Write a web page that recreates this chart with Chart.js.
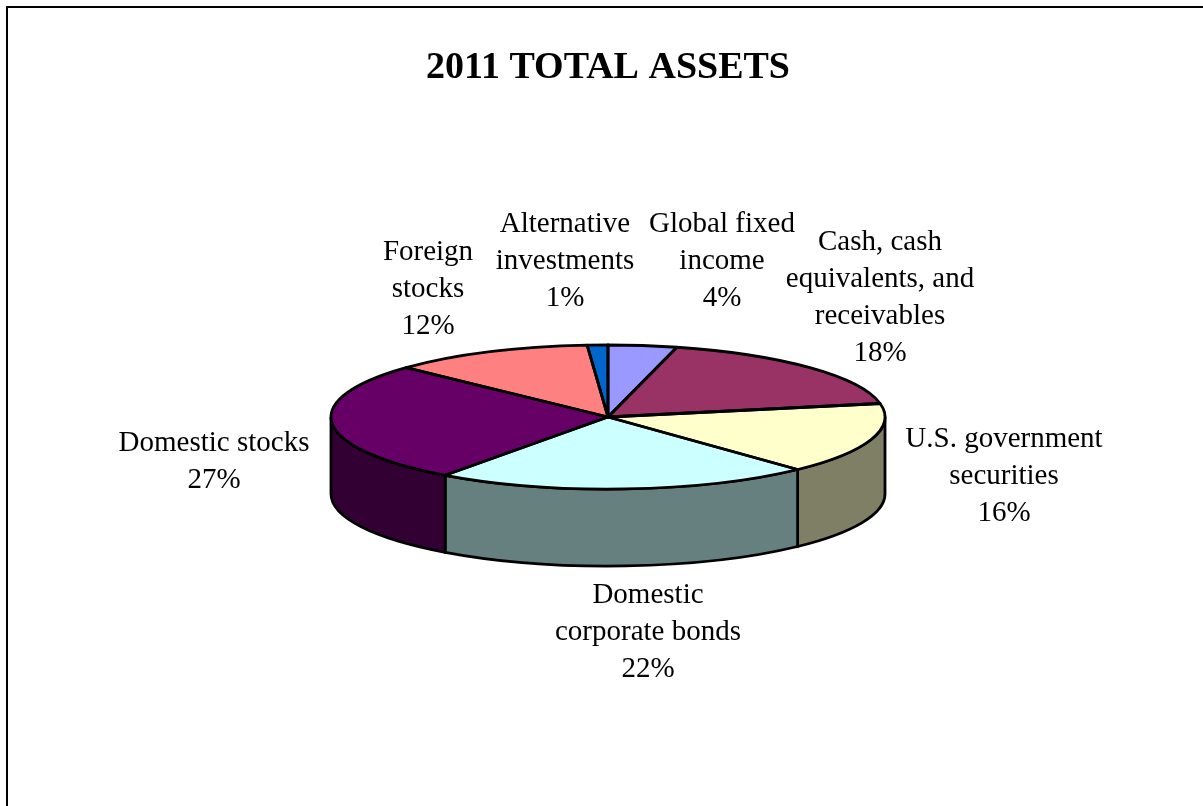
<!DOCTYPE html>
<html>
<head>
<meta charset="utf-8">
<title>2011 Total Assets</title>
<script src="https://cdn.jsdelivr.net/npm/chart.js"></script>
<style>
    html, body { margin: 0; padding: 0; background: #fff; overflow: hidden; }
    #frame { position: absolute; left: 6px; top: 6px; right: 0; bottom: 0; border-left: 2px solid #000; border-top: 2px solid #000; }
    #chart { position: absolute; left: 0; top: 0; }
</style>
</head>
<body>
<div id="frame"></div>
<canvas id="chart" width="1203" height="806"></canvas>
<script>
// clockwise from 12 o'clock
const categories = ['Global fixed income', 'Cash, cash equivalents, and receivables', 'U.S. government securities',
    'Domestic corporate bonds', 'Domestic stocks', 'Foreign stocks', 'Alternative investments'];
const shares = [4, 18, 16, 22, 27, 11.8, 1.2];
const labelLines = [
    ['Global fixed', 'income'],
    ['Cash, cash', 'equivalents, and', 'receivables'],
    ['U.S. government', 'securities'],
    ['Domestic', 'corporate bonds'],
    ['Domestic stocks'],
    ['Foreign', 'stocks'],
    ['Alternative', 'investments']
];

const sliceColors = ['#9999ff', '#993366', '#ffffcc', '#ccffff', '#660066', '#ff8080', '#0066cc'];
const labelCenters = [[722, 224], [880, 242], [1004, 439], [648, 595], [214, 443], [428, 252], [565, 224]];

const squash = 0.26;
const depth = 77;
const edgeWidth = 2.8;
const lineHeight = 37;

const halfColor = (hex) => {
    const n = parseInt(hex.slice(1), 16);
    return `rgb(${(n >> 16) >> 1}, ${((n >> 8) & 255) >> 1}, ${(n & 255) >> 1})`;
};

const tiltedPie = {
    id: 'tiltedPie',
    beforeDatasetsDraw(chart) {
        const ctx = chart.ctx;
        const arcs = chart.getDatasetMeta(0).data;
        const { x, y, outerRadius: r } = arcs[0];

        ctx.strokeStyle = '#000';
        ctx.lineWidth = edgeWidth;
        arcs.forEach((arc, i) => {
            const from = Math.max(arc.startAngle, 0);
            const to = Math.min(arc.endAngle, Math.PI);
            if (to <= from) return;
            ctx.beginPath();
            ctx.ellipse(x, y, r, r * squash, 0, from, to);
            ctx.ellipse(x, y + depth, r, r * squash, 0, to, from, true);
            ctx.closePath();
            ctx.fillStyle = halfColor(sliceColors[i]);
            ctx.fill();
            ctx.stroke();
        });

        ctx.save();
        ctx.translate(0, y);
        ctx.scale(1, squash);
        ctx.translate(0, -y);
    },
    afterDatasetsDraw(chart) {
        const ctx = chart.ctx;
        ctx.restore();

        const arcs = chart.getDatasetMeta(0).data;
        ctx.strokeStyle = '#000';
        ctx.lineWidth = edgeWidth;
        ctx.lineJoin = 'round';
        arcs.forEach((arc) => {
            ctx.beginPath();
            ctx.moveTo(arc.x, arc.y);
            ctx.ellipse(arc.x, arc.y, arc.outerRadius, arc.outerRadius * squash, 0, arc.startAngle, arc.endAngle);
            ctx.closePath();
            ctx.stroke();
        });

        ctx.fillStyle = '#000';
        ctx.font = '29px "Liberation Serif"';
        ctx.textAlign = 'center';
        ctx.textBaseline = 'middle';
        labelLines.forEach((lines, i) => {
            const [cx, top] = labelCenters[i];
            lines.concat(Math.round(shares[i]) + '%').forEach((line, n) => {
                ctx.fillText(line, cx, top + n * lineHeight);
            });
        });
    }
};

new Chart(document.getElementById('chart').getContext('2d'), {
    type: 'pie',
    data: {
        labels: categories,
        datasets: [{
            data: shares,
            backgroundColor: sliceColors,
            borderWidth: 0,
            radius: 277,
            clip: false
        }]
    },
    options: {
        responsive: false,
        animation: false,
        devicePixelRatio: 1,
        layout: { padding: { left: 13, bottom: 63.1 } },
        plugins: {
            legend: { display: false },
            tooltip: { enabled: false },
            title: {
                display: true,
                text: '2011 TOTAL ASSETS',
                color: '#000',
                font: { family: '"Liberation Serif"', size: 38, weight: 'bold' },
                padding: { top: 45.5, bottom: 0 }
            }
        }
    },
    plugins: [tiltedPie]
});
</script>
</body>
</html>
